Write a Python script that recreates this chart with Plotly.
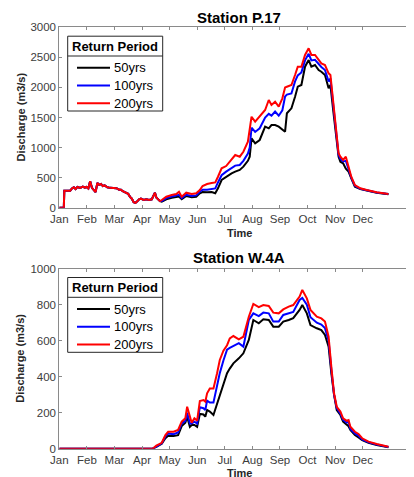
import plotly.graph_objects as go

# ---------------- data ----------------
months = ["Jan", "Feb", "Mar", "Apr", "May", "Jun", "Jul", "Aug", "Sep", "Oct", "Nov", "Dec"]
series_names = ["50yrs", "100yrs", "200yrs"]
series_colors = ["#000000", "#0000ff", "#ff0000"]

# Station P.17 - common (identical) part before the series separate
p17_days_early = [0, 5, 5.5, 12, 14, 16, 18, 20, 23, 26, 28, 30, 32, 34, 36, 38, 40, 42, 44, 46, 48,
                  50, 53, 56, 60, 63, 66, 68, 70, 73, 76, 78, 80, 82, 84, 86, 88, 90, 93, 96, 99,
                  102, 104, 105.5, 107, 109, 111]
p17_q_early = [0, 0, 283, 283, 320, 340, 310, 345, 330, 350, 335, 345, 320, 440, 330, 290, 260, 410,
               380, 395, 360, 370, 340, 330, 320, 325, 300, 300, 275, 255, 230, 180, 150, 90, 80,
               105, 140, 150, 130, 140, 130, 140, 200, 250, 170, 140, 110]

p17_days = [113, 118, 124, 129, 132, 135, 140, 146, 151, 155,
            158, 163, 168, 172, 175, 179, 184, 190, 194, 199,
            203, 208, 210, 212, 216, 221, 227, 231, 234, 238,
            242, 246, 249, 251, 256, 260, 263, 267, 271, 275,
            278, 282, 286, 289, 293, 297, 299, 302, 306, 308,
            310, 313, 316, 319, 322, 326, 332, 339, 350, 363]
p17_50 = [100, 140, 165, 175, 185, 140, 195, 173, 183, 239,
          260, 255, 262, 240, 322, 460, 515, 572, 600, 627,
          682, 780, 848, 1154, 1071, 1126, 1347, 1320, 1375, 1375,
          1347, 1300, 1264, 1570, 1653, 1846, 2012, 2040, 2345, 2456,
          2345, 2373, 2290, 2262, 2207, 1985, 2040, 1625, 1100, 848,
          765, 738, 650, 599, 489, 350, 310, 285, 250, 225]
p17_100 = [110, 160, 185, 200, 215, 160, 215, 195, 205, 265,
           300, 300, 310, 320, 420, 540, 600, 660, 700, 710,
           780, 900, 1000, 1330, 1260, 1320, 1500, 1560, 1530, 1600,
           1530, 1620, 1850, 1880, 1900, 2100, 2200, 2250, 2450, 2560,
           2450, 2460, 2380, 2340, 2290, 2100, 2150, 1700, 1150, 880,
           810, 770, 780, 620, 500, 365, 315, 290, 253, 227]
p17_200 = [128, 183, 211, 228, 266, 183, 250, 228, 239, 294,
           360, 394, 410, 420, 515, 655, 693, 793, 876, 848,
           931, 1098, 1300, 1513, 1430, 1513, 1625, 1791, 1708, 1763,
           1680, 1819, 2000, 2012, 2040, 2207, 2345, 2345, 2540, 2650,
           2540, 2540, 2456, 2400, 2373, 2235, 2207, 1736, 1180, 905,
           848, 793, 848, 655, 515, 377, 322, 294, 256, 228]

# Station W.4A
w4a_days = [0, 103, 107, 113, 117, 120, 126, 131, 135, 139,
            141, 144, 146, 149, 152, 155, 159, 161, 163, 166,
            170, 174, 177, 181, 185, 188, 192, 198, 203, 209,
            214, 220, 225, 231, 236, 242, 247, 253, 258, 265,
            268, 273, 277, 284, 289, 293, 297, 300, 303, 306,
            310, 313, 317, 319, 321, 326, 330, 334, 341, 350, 363]
w4a_50 = [0, 0, 10, 28, 58, 72, 70, 75, 126, 144,
          178, 122, 132, 132, 122, 193, 190, 178, 215, 206,
          187, 252, 290, 360, 419, 445, 474, 502, 530, 604,
          715, 697, 719, 715, 678, 678, 706, 715, 725, 771,
          798, 752, 687, 669, 659, 632, 567, 420, 300, 215,
          187, 150, 132, 125, 104, 76, 62, 48, 33, 20, 8]
w4a_100 = [0, 0, 12, 30, 68, 85, 80, 90, 140, 155,
           200, 140, 140, 150, 140, 230, 225, 215, 267, 256,
           256, 345, 420, 490, 550, 560, 571, 586, 567, 715,
           752, 737, 756, 752, 706, 706, 743, 752, 760, 826,
           838, 800, 730, 700, 690, 670, 600, 440, 300, 225,
           195, 160, 145, 150, 110, 85, 72, 52, 36, 23, 10]
w4a_200 = [0, 0, 17, 33, 76, 94, 94, 104, 150, 169,
           233, 169, 144, 169, 156, 265, 270, 261, 308, 335,
           335, 419, 493, 545, 575, 613, 626, 608, 622, 733,
           804, 786, 798, 793, 756, 752, 774, 789, 798, 845,
           882, 835, 771, 733, 724, 706, 622, 456, 308, 233,
           206, 169, 155, 159, 122, 94, 82, 58, 39, 26, 11]

p17_ticks = [0, 500, 1000, 1500, 2000, 2500, 3000]
w4a_ticks = [0, 200, 400, 600, 800, 1000]
legend_title = "Return Period"

# ---------------- figure ----------------
OFF = 8                      # page body margin of the html page
W, H = 414 - OFF, 477 - OFF
FONT = "Liberation Sans, Arial, Helvetica, sans-serif"
AXC = "#8a8a8a"
TXC = "#3c3c3c"
month_pos = [i * 365 / 12 for i in range(12)]
XLEFT = 59.3
XMAX = (414 - XLEFT) / (27.58 / (365 / 12))


def px(x):
    return (x - OFF) / W


def py(y):
    return 1 - (y - OFF) / H


fig = go.Figure()

p17_x = p17_days_early + p17_days
for name, col, vals in zip(series_names, series_colors, [p17_50, p17_100, p17_200]):
    fig.add_trace(go.Scatter(x=p17_x, y=p17_q_early + vals, mode="lines", name=name,
                             line=dict(color=col, width=2), xaxis="x", yaxis="y", showlegend=False))
for name, col, vals in zip(series_names, series_colors, [w4a_50, w4a_100, w4a_200]):
    fig.add_trace(go.Scatter(x=w4a_days, y=vals, mode="lines", name=name,
                             line=dict(color=col, width=2), xaxis="x2", yaxis="y2", showlegend=False))

xcommon = dict(range=[0, XMAX], tickmode="array", tickvals=month_pos, ticktext=months,
               ticks="inside", ticklen=3, tickcolor=AXC, showline=True, linecolor=AXC, linewidth=1,
               mirror="ticks", showgrid=False, zeroline=False, automargin=False,
               tickfont=dict(family=FONT, size=11.5, color=TXC), domain=[px(XLEFT), 1.0])
ycommon = dict(ticks="inside", ticklen=3, tickcolor=AXC, showline=True, linecolor=AXC, linewidth=1,
               mirror=False, showgrid=False, zeroline=False, automargin=False,
               tickfont=dict(family=FONT, size=11.5, color=TXC))

fig.update_layout(
    width=W, height=H, margin=dict(l=0, r=0, t=0, b=0, autoexpand=False),
    paper_bgcolor="white", plot_bgcolor="white", showlegend=False,
    xaxis=dict(anchor="y", **xcommon),
    yaxis=dict(anchor="x", domain=[py(207.7), py(27.3)], range=[0, 3000], tickvals=p17_ticks, **ycommon),
    xaxis2=dict(anchor="y2", **xcommon),
    yaxis2=dict(anchor="x2", domain=[py(448.7), py(268.7)], range=[0, 1000], tickvals=w4a_ticks, **ycommon),
)

ann = []
shapes = []
for txt, y in [("Station P.17", 17), ("Station W.4A", 257.5)]:
    ann.append(dict(text="<b>%s</b>" % txt, x=px(239), y=py(y), xref="paper", yref="paper",
                    xanchor="center", yanchor="middle", showarrow=False,
                    font=dict(family=FONT, size=15, color="black")))
for y in [233, 473]:
    ann.append(dict(text="<b>Time</b>", x=px(239), y=py(y), xref="paper", yref="paper",
                    xanchor="center", yanchor="middle", showarrow=False,
                    font=dict(family=FONT, size=11, color="#262626")))
for y in [117.5, 358.7]:
    ann.append(dict(text="<b>Discharge (m3/s)</b>", x=px(20), y=py(y), xref="paper", yref="paper",
                    xanchor="center", yanchor="middle", textangle=-90, showarrow=False,
                    font=dict(family=FONT, size=11, color="#262626")))

# legends (boxed, with a title row separated by a rule, as in the original)
for sep in [56.0, 297.3]:
    bx0, bx1 = 67.7, 162.7
    shapes.append(dict(type="rect", xref="paper", yref="paper", x0=px(bx0), x1=px(bx1),
                       y0=py(sep + 55), y1=py(sep - 19.8), line=dict(color="#262626", width=1),
                       fillcolor="white", layer="above"))
    shapes.append(dict(type="line", xref="paper", yref="paper", x0=px(bx0), x1=px(bx1),
                       y0=py(sep), y1=py(sep), line=dict(color="#262626", width=1), layer="above"))
    ann.append(dict(text="<b>%s</b>" % legend_title, x=px(115.3), y=py(sep - 9.4), xref="paper",
                    yref="paper", xanchor="center", yanchor="middle", showarrow=False,
                    font=dict(family=FONT, size=13, color="black")))
    for i, (name, col) in enumerate(zip(series_names, series_colors)):
        yy = sep + 11.7 + i * 17.8
        shapes.append(dict(type="line", xref="paper", yref="paper", x0=px(77), x1=px(110),
                           y0=py(yy), y1=py(yy), line=dict(color=col, width=2), layer="above"))
        ann.append(dict(text=name, x=px(111.5), y=py(yy), xref="paper", yref="paper",
                        xanchor="left", yanchor="middle", showarrow=False,
                        font=dict(family=FONT, size=13, color="black")))

fig.update_layout(annotations=ann, shapes=shapes)

fig.write_html("out.html")
